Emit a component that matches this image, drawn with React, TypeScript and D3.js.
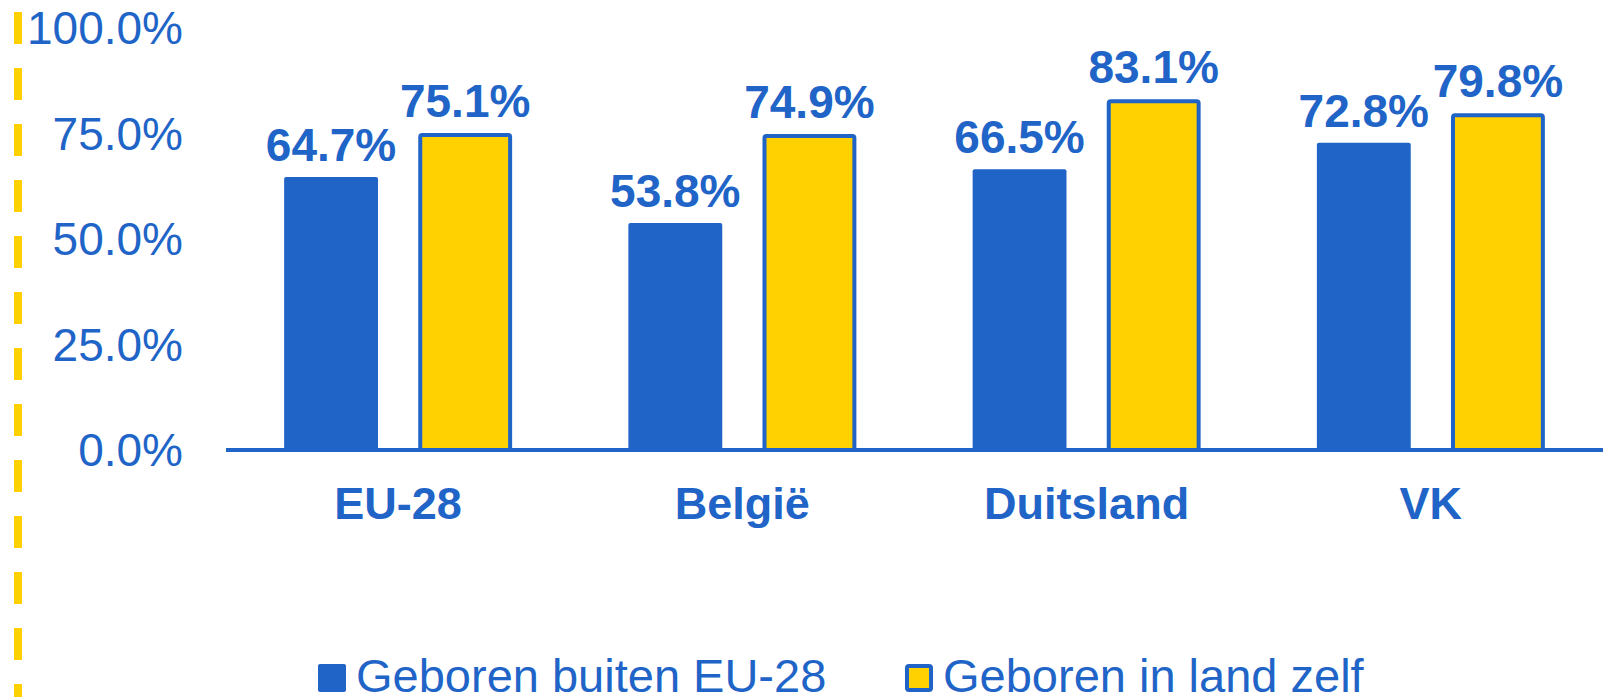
import React from "react";
import * as d3 from "d3";

const categories = ["EU-28", "België", "Duitsland", "VK"];
const seriesNames = ["Geboren buiten EU-28", "Geboren in land zelf"];
const outsideEU = [64.7, 53.8, 66.5, 72.8];
const nativeBorn = [75.1, 74.9, 83.1, 79.8];
const yTicks = [0, 25, 50, 75, 100];

const W = 1610;
const H = 697;
const BLUE = "#2064C8";
const YELLOW = "#FFD100";
const FONT = "'Liberation Sans', Arial, Helvetica, sans-serif";

export default function App() {
  if (typeof document !== "undefined") {
    document.body.style.margin = "0";
    document.body.style.overflow = "hidden";
  }
  const x0 = d3.scaleBand<string>().domain(categories).range([226, 1603]).padding(0);
  const x1 = d3.scaleBand<string>().domain(seriesNames).range([-114, 114]).paddingInner(0.3);
  const y = d3.scaleLinear().domain([0, 100]).range([450, 28]);
  const fmt = (v: number) => v.toFixed(1) + "%";
  const seriesData = [outsideEU, nativeBorn];

  return (
    <svg width={W} height={H} style={{ position: "absolute", left: 0, top: 0, background: "#fff" }}>
      {/* dashed yellow line on left */}
      <line x1={18} x2={18} y1={12} y2={H} stroke={YELLOW} strokeWidth={8} strokeDasharray="32 24" />

      {/* y tick labels */}
      {yTicks.map((t) => (
        <text
          key={t}
          x={183}
          y={y(t)}
          dy="0.35em"
          textAnchor="end"
          fontFamily={FONT}
          fontSize={46}
          fill={BLUE}
        >
          {t.toFixed(1) + "%"}
        </text>
      ))}

      {/* bars */}
      {categories.map((c, i) => {
        const cx = (x0(c) as number) + x0.bandwidth() / 2;
        return (
          <g key={c}>
            {seriesNames.map((s, si) => {
              const v = seriesData[si][i];
              const bx = cx + (x1(s) as number);
              const bw = x1.bandwidth();
              const top = y(v);
              return (
                <g key={s}>
                  {si === 0 ? (
                    <rect x={bx} y={top} width={bw} height={y(0) - top} fill={BLUE} rx={2} />
                  ) : (
                    <rect
                      x={bx + 2}
                      y={top + 2}
                      width={bw - 4}
                      height={y(0) - top - 2}
                      fill={YELLOW}
                      stroke={BLUE}
                      strokeWidth={4}
                      rx={2}
                    />
                  )}
                  <text
                    x={bx + bw / 2}
                    y={top - 16}
                    textAnchor="middle"
                    fontFamily={FONT}
                    fontWeight="bold"
                    fontSize={46}
                    fill={BLUE}
                  >
                    {fmt(v)}
                  </text>
                </g>
              );
            })}
            <text
              x={cx}
              y={519}
              textAnchor="middle"
              fontFamily={FONT}
              fontWeight="bold"
              fontSize={45}
              fill={BLUE}
            >
              {c}
            </text>
          </g>
        );
      })}

      {/* axis line */}
      <line x1={226} x2={1603} y1={y(0)} y2={y(0)} stroke={BLUE} strokeWidth={4} />

      {/* legend */}
      <rect x={318} y={664} width={28} height={28} fill={BLUE} rx={2} />
      <text x={356} y={692} fontFamily={FONT} fontSize={47} fill={BLUE}>
        {seriesNames[0]}
      </text>
      <rect x={907} y={666} width={24} height={24} fill={YELLOW} stroke={BLUE} strokeWidth={4} rx={2} />
      <text x={943} y={692} fontFamily={FONT} fontSize={47} fill={BLUE}>
        {seriesNames[1]}
      </text>
    </svg>
  );
}
